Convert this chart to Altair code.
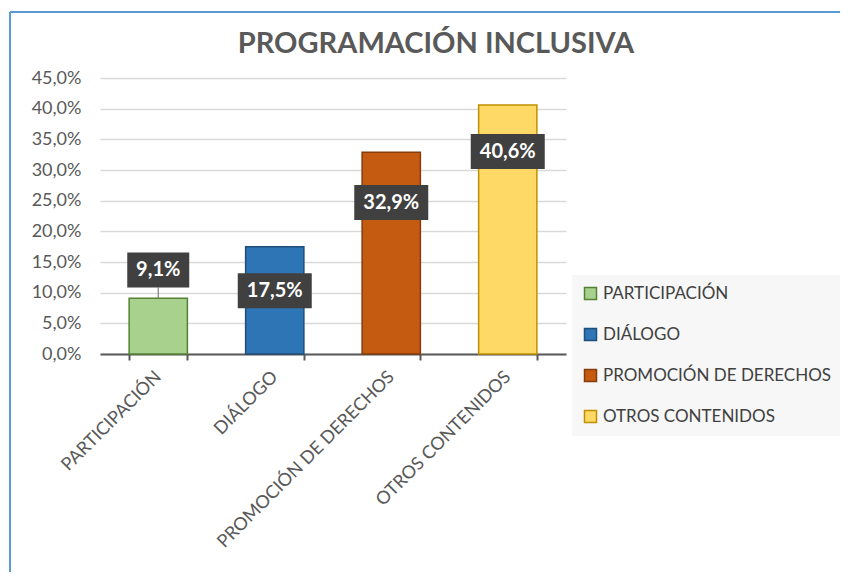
import altair as alt
import pandas as pd

categories = ["PARTICIPACIÓN", "DIÁLOGO", "PROMOCIÓN DE DERECHOS", "OTROS CONTENIDOS"]
values = [0.091, 0.175, 0.329, 0.406]
labels = ["9,1%", "17,5%", "32,9%", "40,6%"]
label_center = [0.137, 0.103, 0.247, 0.330]
label_width = [62, 74, 74, 74]

fills = ["#A9D18E", "#2E75B6", "#C55A11", "#FFD966"]
strokes = ["#548235", "#1F4E79", "#843C0C", "#BF9000"]

df = pd.DataFrame({"cat": categories, "v": values})
lab = pd.DataFrame({
    "cat": categories,
    "txt": labels,
    "c": label_center,
    "lo": [c - 0.0285 for c in label_center],
    "hi": [c + 0.0285 for c in label_center],
    "w": label_width,
})

FONT = "Lato"
xaxis = alt.Axis(labelAngle=-45, labelAlign="right", labelBaseline="middle",
                 labelFontSize=18, labelColor="#595959", labelFont=FONT,
                 domainColor="#595959", domainWidth=2, tickColor="#595959",
                 tickWidth=2, tickSize=6, tickBand="extent", labelPadding=14,
                 labelLimit=400)
xscale = alt.Scale(paddingInner=0.5, paddingOuter=0.25)
yaxis = alt.Axis(values=[0, 0.05, 0.1, 0.15, 0.2, 0.25, 0.3, 0.35, 0.4, 0.45],
                 labelExpr="replace(format(datum.value, '.1%'), '.', ',')",
                 labelFontSize=18, labelColor="#595959", labelFont=FONT,
                 domain=False, ticks=False, labelPadding=19, labelOverlap=False,
                 gridColor="#d9d9d9", gridWidth=1.5)
yscale = alt.Scale(domain=[0, 0.45], nice=False)


def X():
    return alt.X("cat:N", sort=categories, title=None, scale=xscale, axis=xaxis)


def Y(f):
    return alt.Y(f, scale=yscale, title=None, axis=yaxis)


bars = alt.Chart(df).mark_bar(strokeWidth=1.5).encode(
    x=X(),
    y=Y("v:Q"),
    fill=alt.Fill("cat:N", sort=categories, title=None,
                  scale=alt.Scale(domain=categories, range=fills)),
    stroke=alt.Stroke("cat:N", sort=categories, title=None,
                      scale=alt.Scale(domain=categories, range=strokes)),
)

leader = alt.Chart(lab.iloc[[0]]).mark_rule(color="#7f7f7f", strokeWidth=1.2).encode(
    x=X(),
    y=Y("lo:Q"),
    y2=alt.datum(0.091),
)

boxes = alt.Chart(lab).mark_bar(color="#404040").encode(
    x=X(),
    y=Y("lo:Q"),
    y2="hi:Q",
    size=alt.Size("w:Q", scale=None, legend=None),
)

texts = alt.Chart(lab).mark_text(color="white", fontSize=20, fontWeight="bold",
                                 font=FONT).encode(
    x=X(),
    y=Y("c:Q"),
    text="txt:N",
)

border_left = alt.Chart(df.iloc[[0]]).mark_rule(color="#5B9BD5", strokeWidth=2).encode(
    x=alt.value(-90), y=alt.value(-66), y2=alt.value(510))
border_top = alt.Chart(df.iloc[[0]]).mark_rule(color="#5B9BD5", strokeWidth=2).encode(
    x=alt.value(-90), x2=alt.value(760), y=alt.value(-66))

chart = alt.layer(bars, leader, boxes, texts, border_left, border_top).properties(
    width=466, height=276,
    autosize=alt.AutoSizeParams(type="none"),
    padding={"left": 92, "top": 70, "right": 274, "bottom": 218},
    background="white",
    title=alt.Title("PROGRAMACIÓN INCLUSIVA", font=FONT, fontSize=29, fontWeight="bold",
                    color="#595959", anchor="middle", dx=103, dy=68, offset=20,
                    frame="group"),
).configure_view(stroke=None).configure_legend(
    orient="none", legendX=472, legendY=197, fillColor="#f7f7f7",
    padding=10, labelFontSize=17, labelColor="#404040", labelFont=FONT,
    symbolType="square", symbolSize=144, symbolStrokeWidth=1.5, rowPadding=22,
    labelOffset=4, labelLimit=300,
)

chart.save("out.html", embed_options={"renderer": "svg", "actions": False})
